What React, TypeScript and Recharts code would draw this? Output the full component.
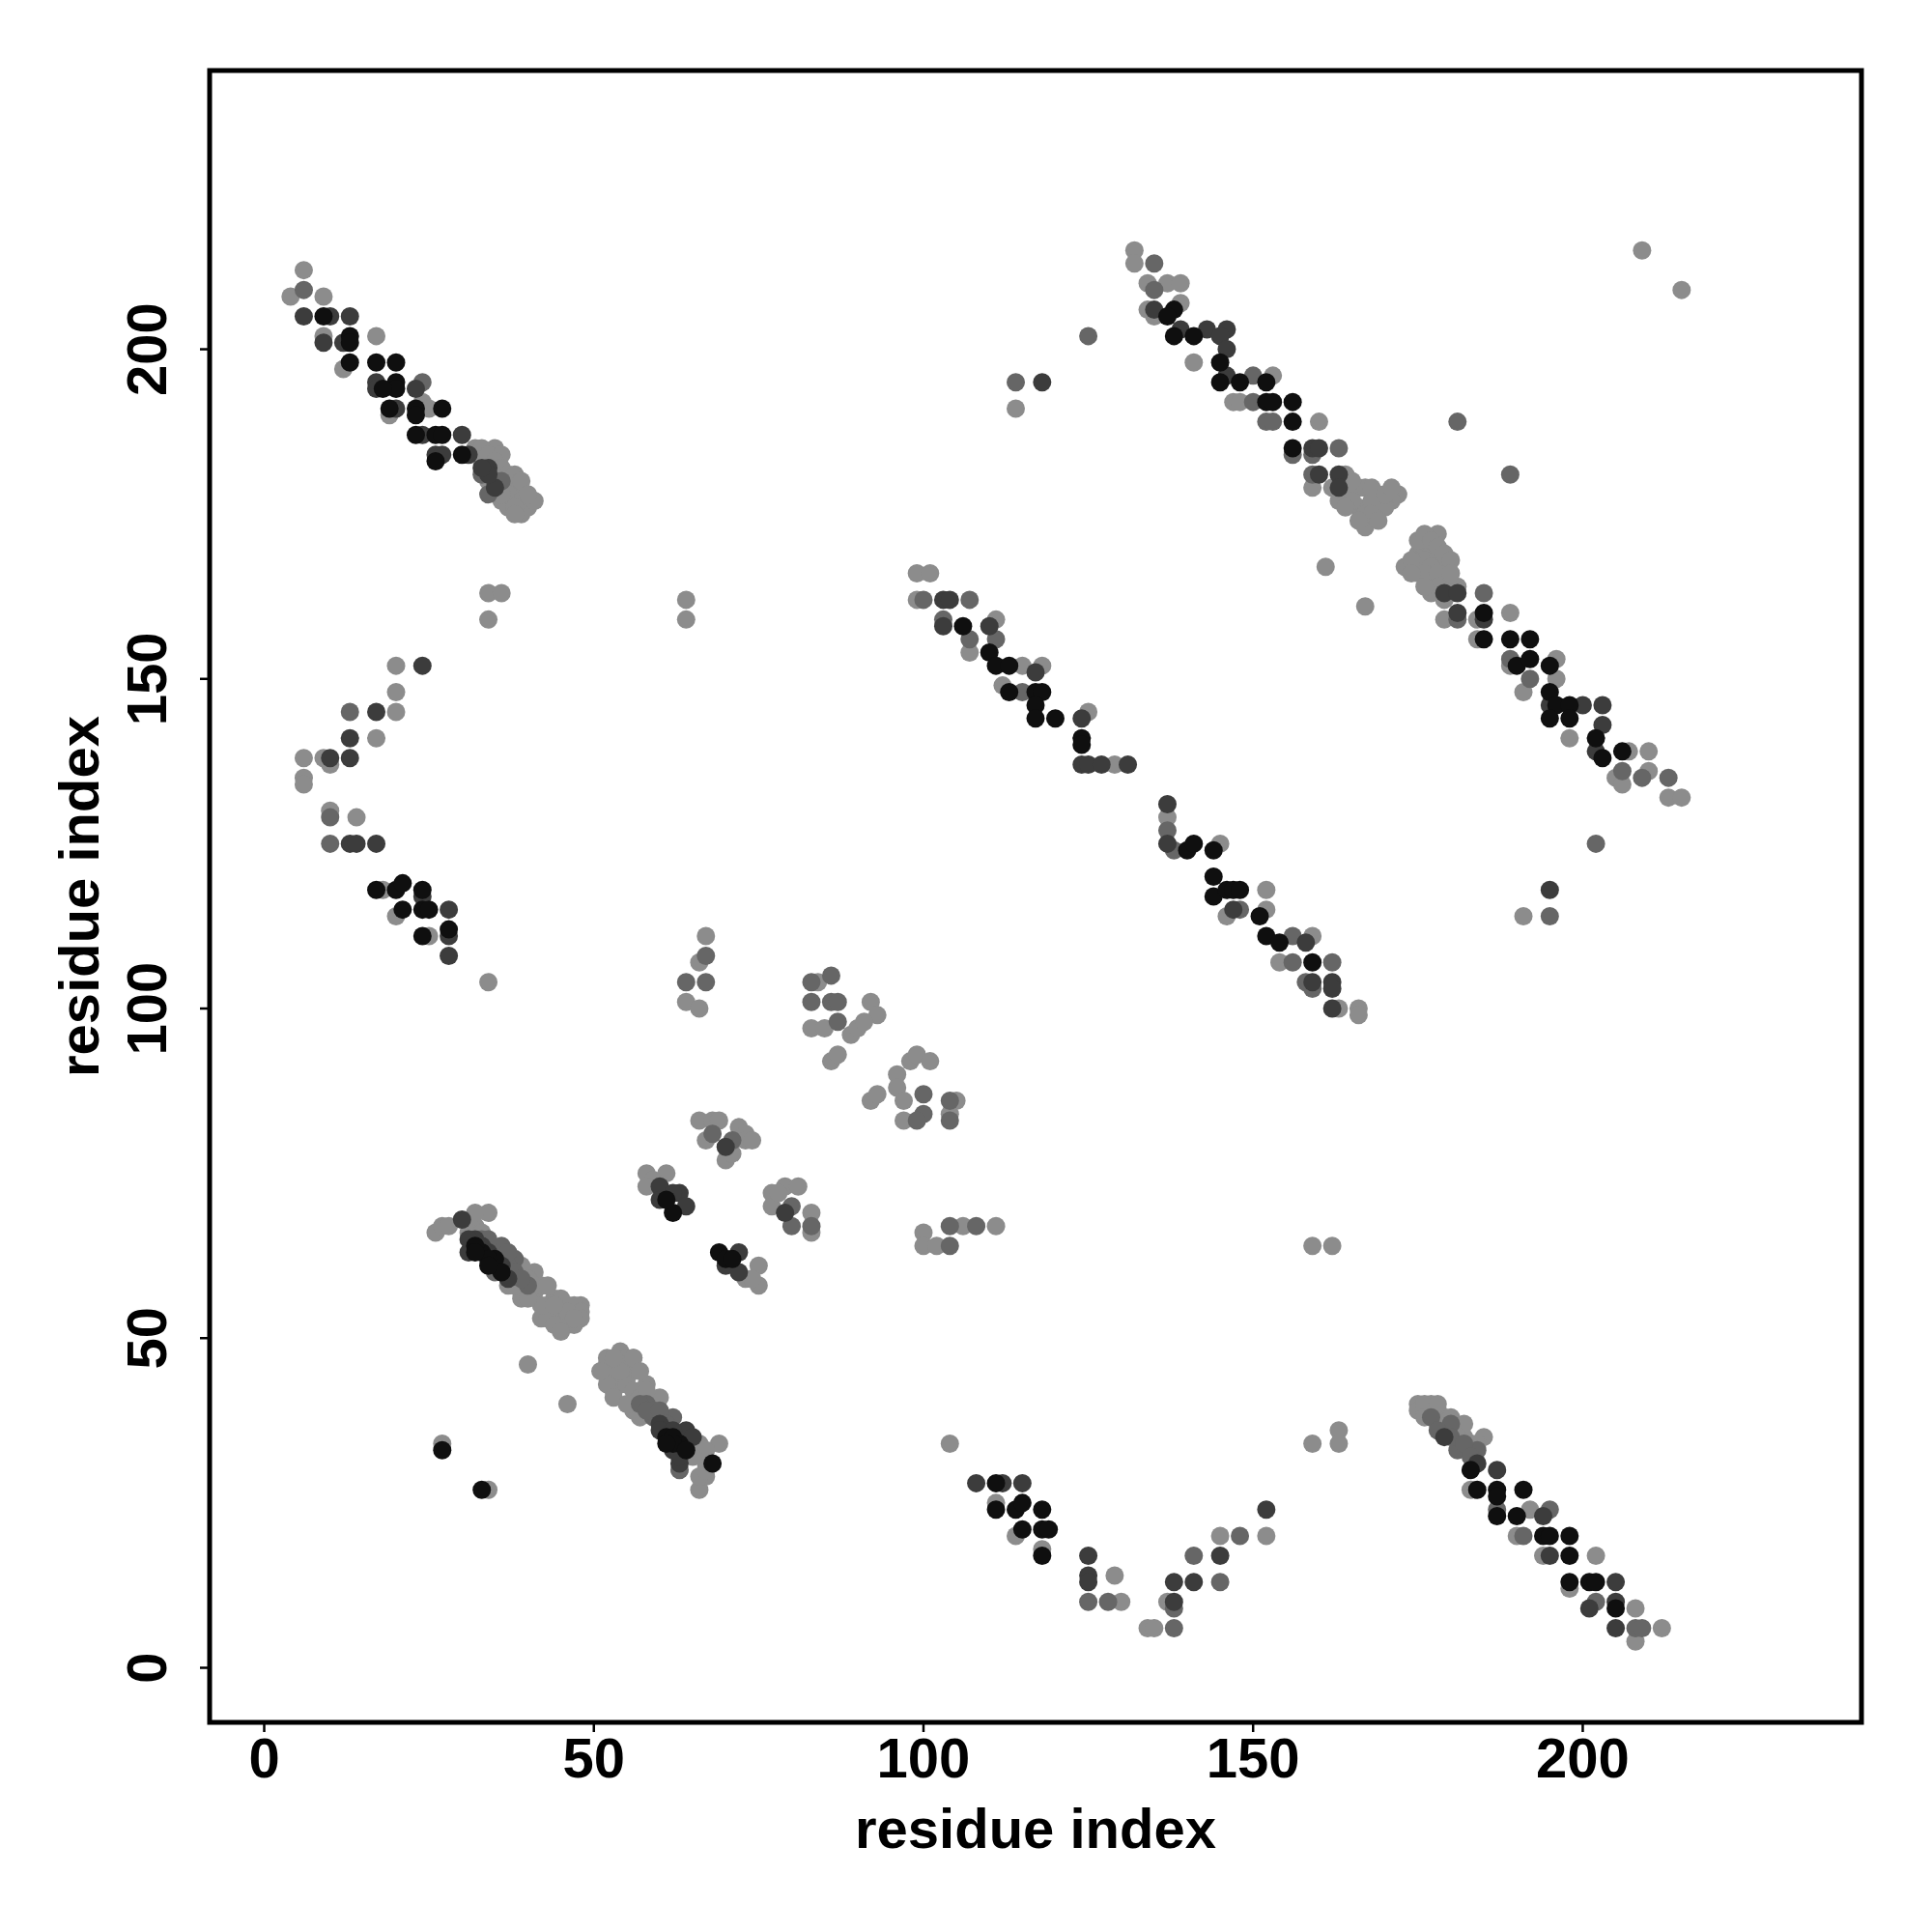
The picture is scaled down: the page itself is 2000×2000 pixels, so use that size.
import { ScatterChart, Scatter, XAxis, YAxis, ReferenceArea } from 'recharts'

// axis range (R style: data range 1..233 padded by 4%)
const lo = -8.28
const hi = 242.28
const xTicks = [0, 50, 100, 150, 200]
const yTicks = [0, 50, 100, 150, 200]

const FONT = '"Liberation Sans", Arial, Helvetica, sans-serif'

// contacts grouped by shade, [i, j]
const lightPts: [number, number][] = [
  [6, 212], [4, 208], [9, 208], [9, 202], [17, 202], [12, 197], [24, 192], [25, 191], [19, 190], [32, 185], [35, 185], [33, 183],
  [34, 180], [35, 181], [36, 179], [37, 180], [38, 179], [40, 177], [39, 175], [37, 176], [36, 177], [39, 178], [38, 177],
  [33, 185], [34, 184], [36, 184], [35, 183], [36, 182], [37, 181], [38, 181], [39, 180], [37, 178], [39, 177], [40, 176],
  [38, 176], [36, 178], [41, 177], [40, 178], [38, 175],
  [34, 163], [36, 163], [34, 159], [64, 162], [64, 159], [20, 152], [20, 148], [20, 145], [17, 141], [6, 138], [9, 138],
  [10, 137], [6, 135], [6, 134], [10, 130], [14, 129], [18, 118], [20, 114], [25, 111], [34, 104],
  [67, 111], [66, 107], [64, 101], [66, 100],
  [83, 97], [85, 97], [89, 96], [90, 97], [92, 101], [93, 99], [91, 98], [86, 92], [87, 93], [84, 104],
  [96, 90], [98, 92], [99, 93], [101, 92], [96, 88], [97, 86], [97, 83], [104, 84], [92, 86], [93, 87], [105, 86],
  [66, 83], [68, 83], [69, 83], [72, 82], [73, 81], [73, 80], [67, 80], [70, 77], [71, 78], [74, 80], [79, 73], [81, 73],
  [77, 72], [77, 70], [83, 69], [83, 66], [78, 72],
  [58, 75], [61, 75], [59, 74], [58, 73], [73, 59], [75, 61], [75, 58], [74, 59],
  [26, 66], [27, 67], [28, 67], [34, 69], [32, 67], [39, 61], [41, 60], [37, 58], [39, 57], [42, 58], [42, 53], [44, 56],
  [46, 55], [48, 55], [45, 52], [47, 52], [44, 54], [43, 55], [46, 53], [40, 59], [41, 57], [43, 53], [31, 66],
  [32, 69], [33, 66], [39, 56], [41, 58], [43, 58], [42, 55], [44, 52], [46, 52], [47, 55], [48, 54], [45, 56], [46, 54],
  [48, 53], [44, 55], [40, 56], [38, 58], [45, 51], [47, 53],
  [40, 46], [46, 40], [27, 34], [34, 27], [104, 34], [159, 34], [163, 36], [163, 34], [159, 64], [162, 64], [114, 191],
  [209, 215], [215, 209], [161, 167], [167, 161], [191, 114], [152, 20], [145, 20],
  [54, 48], [52, 46], [53, 44], [55, 46], [56, 45], [53, 42], [57, 42], [56, 39], [60, 41], [55, 44], [54, 43], [55, 47],
  [53, 45], [66, 34], [69, 34], [66, 27], [67, 29], [67, 31], [58, 43], [56, 47],
  [52, 47], [52, 45], [52, 43], [54, 46], [56, 47], [57, 45], [55, 43], [53, 41], [56, 42], [57, 41], [58, 42], [55, 40],
  [57, 38], [54, 45], [53, 47], [51, 45], [65, 33], [67, 33], [66, 29], [67, 30], [65, 32],
  [111, 25], [114, 20], [118, 18], [129, 14], [130, 10], [134, 6], [135, 6], [137, 10], [100, 66], [100, 64], [102, 64],
  [106, 67], [111, 67],
  [132, 215], [132, 213], [134, 210], [137, 210], [139, 210], [134, 206], [139, 207], [135, 205], [141, 198], [147, 192],
  [153, 196], [148, 192], [160, 189], [164, 181], [159, 179], [162, 179], [166, 179], [167, 179], [169, 178], [172, 178],
  [163, 177], [166, 176], [169, 176], [167, 175], [167, 173], [171, 177], [170, 176], [168, 177],
  [164, 178], [165, 180], [165, 177], [168, 179], [168, 175], [170, 178], [171, 179], [166, 174], [169, 174], [164, 176],
  [178, 172], [173, 167], [175, 169], [176, 170], [177, 169], [179, 167], [175, 166], [177, 165], [179, 164], [177, 163],
  [181, 164], [179, 162], [179, 159], [184, 159], [189, 160], [184, 156], [196, 153], [189, 152], [196, 150], [191, 148],
  [198, 141], [207, 139], [210, 139], [205, 135], [206, 134], [210, 136], [213, 132], [215, 132], [176, 168], [178, 168],
  [177, 167],
  [174, 168], [175, 171], [176, 172], [177, 171], [178, 170], [179, 169], [180, 168], [176, 166], [178, 166], [180, 166],
  [178, 164], [180, 163], [176, 164], [174, 166],
  [99, 166], [101, 166], [99, 162], [107, 154], [111, 159], [115, 152], [118, 152], [112, 149], [125, 145], [129, 137],
  [137, 129], [145, 125], [146, 114], [152, 118], [152, 115], [159, 111], [154, 107], [163, 100], [166, 100], [166, 99],
  [175, 40], [177, 40], [175, 39], [179, 38], [181, 36], [183, 34], [185, 35], [183, 27], [192, 24], [190, 20], [194, 17],
  [202, 17], [198, 12], [208, 9], [212, 6], [208, 4], [176, 39], [178, 39], [180, 36],
  [176, 40], [178, 40], [176, 38], [178, 37], [179, 36], [180, 38], [182, 35], [182, 37], [184, 34], [181, 35],
]

const midPts: [number, number][] = [
  [6, 209], [24, 195], [33, 181], [35, 180], [36, 180], [34, 178],
  [13, 145], [10, 129], [10, 125],
  [67, 108], [64, 104], [67, 104],
  [83, 104], [86, 105], [83, 101], [86, 101], [87, 101], [87, 98],
  [100, 87], [100, 84], [99, 83], [104, 86], [104, 83],
  [68, 81], [71, 80], [80, 70], [80, 67], [83, 67],
  [36, 64], [38, 62], [35, 60], [40, 58], [33, 65], [36, 62], [37, 61], [38, 60], [39, 59], [34, 65], [37, 63],
  [58, 40], [62, 38], [59, 39], [57, 40], [59, 38], [58, 39], [60, 39], [63, 30], [61, 37],
  [125, 10], [128, 10], [138, 6], [138, 9], [141, 17], [145, 13], [148, 20], [104, 67], [104, 64], [108, 67],
  [135, 213], [135, 209], [150, 196], [150, 192], [152, 189], [153, 189], [163, 185], [156, 184], [159, 184], [159, 181],
  [125, 202], [114, 195], [181, 189], [189, 181], [195, 114], [202, 125],
  [185, 163], [181, 159], [189, 153], [192, 150], [206, 136], [209, 135], [213, 135],
  [100, 162], [107, 162], [103, 159], [107, 156], [111, 156], [115, 148], [137, 127], [138, 124], [156, 111], [156, 107],
  [162, 107], [158, 104], [159, 103], [148, 115],
  [177, 38], [180, 37], [181, 33], [184, 33], [187, 24], [191, 20], [195, 24], [202, 10], [208, 6], [209, 6],
  [178, 36], [180, 35], [182, 34], [183, 32],
]

const darkPts: [number, number][] = [
  [6, 205], [10, 205], [13, 205], [9, 201], [12, 201], [17, 195], [23, 194], [17, 194], [20, 191], [24, 187], [30, 187],
  [26, 184], [27, 184], [31, 184], [34, 182], [35, 179], [34, 181], [33, 182],
  [24, 152], [17, 145], [13, 141], [10, 138], [13, 138], [13, 125], [14, 125], [17, 125], [28, 115], [28, 111], [28, 108],
  [24, 117],
  [70, 79], [79, 69], [60, 73], [63, 72], [60, 71], [64, 70], [62, 72], [72, 63], [70, 61], [72, 60],
  [30, 68], [31, 63], [35, 61], [32, 65], [36, 61], [34, 63], [33, 64], [37, 59], [31, 65],
  [60, 37], [64, 36], [63, 31], [61, 36], [60, 36], [62, 33], [63, 32], [65, 35], [62, 36],
  [108, 28], [112, 28], [115, 28], [125, 17], [125, 14], [125, 13], [138, 10], [138, 13], [141, 13], [145, 17],
  [139, 203], [143, 203], [146, 203], [145, 202], [146, 200], [146, 196], [159, 185], [160, 185], [160, 181], [163, 181],
  [163, 179], [135, 206],
  [118, 195], [195, 118], [152, 24],
  [179, 163], [181, 160], [185, 159], [195, 146], [200, 146], [203, 146], [203, 143], [202, 139], [181, 163],
  [103, 162], [104, 162], [103, 158], [110, 158], [117, 151], [124, 144], [124, 137], [125, 137], [127, 137], [131, 137],
  [137, 131], [137, 125], [147, 115], [158, 110], [159, 104], [162, 104], [162, 103], [162, 100],
  [179, 35], [184, 31], [187, 30], [194, 23], [195, 17], [205, 13], [201, 9], [205, 10], [205, 6],
]

const blackPts: [number, number][] = [
  [9, 205], [13, 202], [13, 201], [13, 198], [17, 198], [20, 198], [20, 195], [20, 194], [18, 194], [19, 191], [23, 191],
  [27, 191], [23, 190], [23, 187], [26, 187], [27, 187], [26, 183], [30, 184],
  [17, 118], [20, 118], [21, 119], [24, 118], [21, 115], [24, 115], [25, 115], [24, 111], [28, 112],
  [62, 69], [61, 71], [69, 63], [70, 62], [71, 62],
  [33, 63], [35, 62], [36, 60], [34, 62], [32, 64], [34, 61], [32, 63], [27, 33], [33, 27],
  [61, 35], [63, 34], [68, 31], [62, 35], [62, 34], [64, 33], [61, 34],
  [111, 28], [111, 24], [114, 24], [115, 25], [118, 24], [115, 21], [118, 21], [119, 21], [118, 17],
  [138, 206], [138, 202], [141, 202], [145, 198], [145, 195], [148, 195], [152, 195], [152, 192], [153, 192], [156, 192],
  [156, 189], [156, 185], [137, 205],
  [185, 160], [185, 156], [189, 156], [192, 156], [190, 152], [192, 153], [195, 152], [195, 148], [196, 146], [198, 146],
  [195, 144], [198, 144], [202, 141], [203, 138], [206, 139],
  [106, 158], [110, 154], [111, 152], [113, 152], [113, 148], [117, 148], [118, 148], [117, 146], [117, 144], [120, 144],
  [124, 141], [124, 140], [140, 124], [141, 125], [144, 124], [144, 120], [144, 117], [146, 118], [147, 118], [148, 118],
  [151, 114], [152, 111], [154, 110], [159, 107],
  [183, 30], [184, 27], [187, 27], [187, 26], [191, 27], [187, 23], [190, 23], [194, 20], [195, 20], [198, 20], [198, 17],
  [198, 13], [201, 13], [202, 13], [205, 9],
]

const series = [
  { name: 'light', pts: lightPts, color: '#8c8c8c' },
  { name: 'mid', pts: midPts, color: '#666666' },
  { name: 'dark', pts: darkPts, color: '#3c3c3c' },
  { name: 'black', pts: blackPts, color: '#0f0f0f' },
]

const toXY = (pts: [number, number][]) => pts.map(([x, y]) => ({ x, y }))

function XTick({ x, y, payload }: any) {
  return (
    <text x={x} y={y + 45} textAnchor="middle" fontSize={58} fontWeight="bold" fontFamily={FONT} fill="#000">
      {payload.value}
    </text>
  )
}

function YTick({ x, y, payload }: any) {
  const tx = x - 33
  return (
    <text x={tx} y={y} transform={`rotate(-90, ${tx}, ${y})`} textAnchor="middle" fontSize={58} fontWeight="bold" fontFamily={FONT} fill="#000">
      {payload.value}
    </text>
  )
}

function XTitle() {
  return (
    <text x={1072} y={1913} textAnchor="middle" fontSize={58} fontWeight="bold" fontFamily={FONT} fill="#000">
      residue index
    </text>
  )
}

function YTitle() {
  return (
    <text x={102} y={928} transform="rotate(-90, 102, 928)" textAnchor="middle" fontSize={58} fontWeight="bold" fontFamily={FONT} fill="#000">
      residue index
    </text>
  )
}

export default function App() {
  return (
    <div style={{ position: 'absolute', left: 0, top: 0, background: '#fff' }}>
      <ScatterChart width={2000} height={2000} margin={{ top: 73, right: 73, bottom: 137, left: 97 }}>
        <XAxis
          type="number"
          dataKey="x"
          domain={[lo, hi]}
          ticks={xTicks}
          interval={0}
          allowDataOverflow
          height={80}
          axisLine={false}
          tickSize={10}
          tickLine={{ stroke: '#000', strokeWidth: 2.5 }}
          tick={<XTick />}
          label={<XTitle />}
        />
        <YAxis
          type="number"
          dataKey="y"
          domain={[lo, hi]}
          ticks={yTicks}
          interval={0}
          allowDataOverflow
          width={120}
          axisLine={false}
          tickSize={10}
          tickLine={{ stroke: '#000', strokeWidth: 2.5 }}
          tick={<YTick />}
          label={<YTitle />}
        />
        {series.map((s) => (
          <Scatter
            key={s.name}
            name={s.name}
            data={toXY(s.pts)}
            fill={s.color}
            isAnimationActive={false}
            shape={(p: any) => <circle cx={p.cx} cy={p.cy} r={9.5} fill={s.color} />}
          />
        ))}
        <ReferenceArea x1={lo} x2={hi} y1={lo} y2={hi} ifOverflow="visible" fill="none" stroke="#000" strokeWidth={5} />
      </ScatterChart>
    </div>
  )
}
